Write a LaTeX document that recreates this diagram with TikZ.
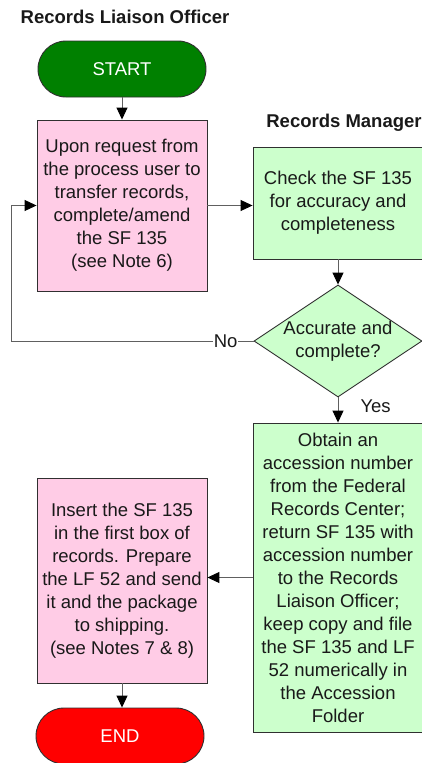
\documentclass[tikz,border=0pt]{standalone}
\usepackage{fontspec}
\setmainfont{Liberation Sans}
\usetikzlibrary{arrows.meta,shapes.geometric}

\definecolor{rlopink}{HTML}{FFCCE6}
\definecolor{rmgreen}{HTML}{CCFFCC}
\definecolor{startgreen}{HTML}{008000}
\definecolor{endred}{HTML}{FF0000}
\definecolor{connline}{HTML}{606060}
\definecolor{boxline}{HTML}{303030}

\begin{document}
\begin{tikzpicture}[x=1pt,y=-1pt,
  txt/.style={font=\fontsize{18.5}{23}\selectfont, text=black!90, align=center},
  lanetitle/.style={font=\bfseries\fontsize{18.5}{23}\selectfont, text=black!90, inner sep=0pt},
  rlobox/.style={txt, draw=boxline, line width=0.9pt, fill=rlopink, inner sep=0pt,
    minimum width=170pt},
  rmbox/.style={txt, draw=boxline, line width=0.9pt, fill=rmgreen, inner sep=0pt,
    minimum width=170pt},
  terminal/.style={txt, text=white, draw=boxline, line width=0.9pt, rounded corners=28pt,
    minimum width=168pt, minimum height=56pt, inner sep=0pt},
  decision/.style={diamond, draw=boxline, line width=0.9pt, fill=rmgreen, inner sep=0pt,
    minimum width=168pt, minimum height=112pt},
  conn/.style={draw=connline, line width=1pt,
    -{Triangle[length=12pt,width=11pt,color=black]}},
  edgelabel/.style={txt, inner sep=1pt}
]
\useasboundingbox (0,0) rectangle (422,763);
\clip (0,0) rectangle (422,763);

% swimlane headings
\node[lanetitle] (laneRLO) at (125,17) {Records Liaison Officer};
\node[lanetitle] (laneRM) at (344,123) {Records Manager};

% Records Liaison Officer lane
\node[terminal, fill=startgreen] (start) at (122,69) {START};
\node[rlobox, minimum height=171pt] (request) at (122,205.5)
  {Upon request from\\the process user to\\transfer records,\\complete/amend\\the SF 135\\(see Note 6)};
\node[rlobox, minimum height=205pt] (insert) at (122,580.5)
  {Insert the SF 135\\in the first box of\\records. Prepare\\the LF 52 and send\\it and the package\\to shipping.\\(see Notes 7 \& 8)};
\node[terminal, fill=endred] (finish) at (120,736) {END};

% Records Manager lane
\node[rmbox, minimum height=112pt] (check) at (338,203)
  {Check the SF 135\\for accuracy and\\completeness};
\node[decision] (accurate) at (338,341) {};
\node[txt] (accuratetext) at (accurate) {Accurate and\\complete?};
\node[rmbox, minimum height=309pt] (obtain) at (338,577.5)
  {Obtain an\\accession number\\from the Federal\\Records Center;\\return SF 135 with\\accession number\\to the Records\\Liaison Officer;\\keep copy and file\\the SF 135 and LF\\52 numerically in\\the Accession\\Folder};

\coordinate (loopcorner) at (11,341);

% connectors
\draw[conn] (start.south -| request.north) -- (request.north);
\draw[conn] (request.east) -- (request.east -| check.west);
\draw[conn] (check.south) -- (accurate.north);
\draw[conn] (accurate.west) -- node[edgelabel, fill=white, pos=0.115] {No} (loopcorner) |- (request.west);
\draw[conn] (accurate.south) -- node[edgelabel, anchor=west, xshift=21pt, pos=0.35] {Yes} (obtain.north);
\draw[conn] (obtain.west) -- (obtain.west -| insert.east);
\draw[conn] (insert.south) -- (insert.south |- finish.north);
\end{tikzpicture}
\end{document}
